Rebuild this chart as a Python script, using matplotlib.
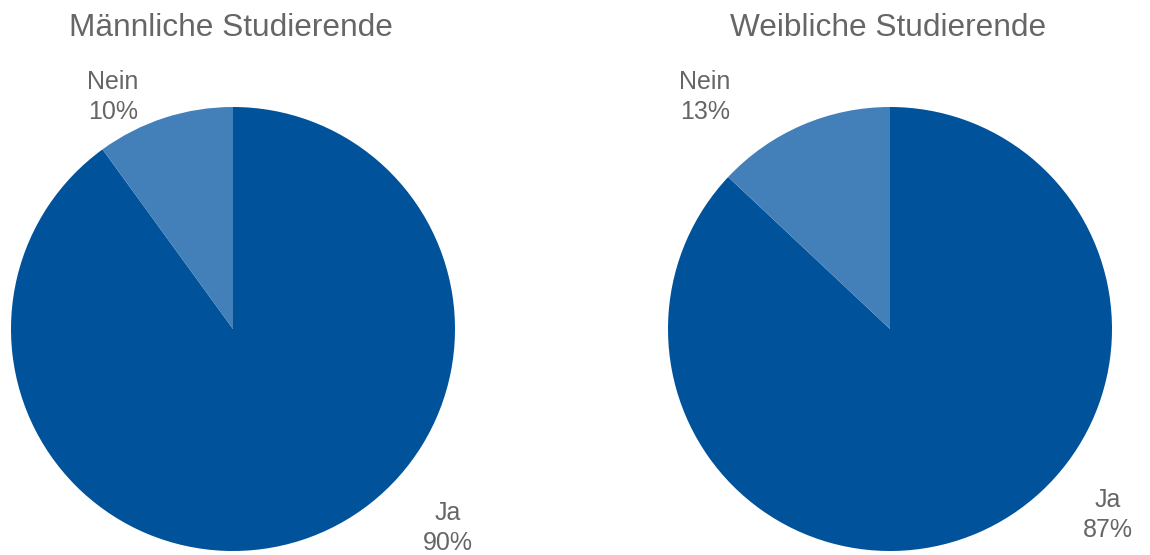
import matplotlib.pyplot as plt

plt.rcParams['font.family'] = ['Liberation Sans', 'DejaVu Sans']

categories = ["Ja", "Nein"]
titles = ["Männliche Studierende", "Weibliche Studierende"]
male = [90, 10]
female = [87, 13]

# label centres in pie units (radius 1)
label_pos = [
    {"Ja": (0.968, -0.896), "Nein": (-0.54, 1.045)},
    {"Ja": (0.98, -0.838), "Nein": (-0.833, 1.045)},
]

colors = ["#00529B", "#4380B9"]
text_color = "#666666"


def main():
    fig = plt.figure(figsize=(11.5, 5.55), dpi=100)
    axes = [
        fig.add_axes([11 / 1150, 4 / 555, 444 / 1150, 444 / 555]),
        fig.add_axes([668 / 1150, 4 / 555, 444 / 1150, 444 / 555]),
    ]

    for ax, values, title, pos in zip(axes, (male, female), titles, label_pos):
        ax.pie(values, colors=colors, startangle=90, counterclock=False,
               radius=1, wedgeprops=dict(linewidth=0))
        ax.set_xlim(-1, 1)
        ax.set_ylim(-1, 1)
        ax.set_aspect("equal")
        ax.axis("off")
        for cat, v in zip(categories, values):
            x, y = pos[cat]
            ax.text(x, y, "{}\n{}%".format(cat, v), ha="center", va="center",
                    fontsize=18, color=text_color, linespacing=1.35)
        ax.text(-0.01, 1.355, title, ha="center", va="center",
                fontsize=22.8, color=text_color)

    fig.savefig("out.png", dpi=100)


if __name__ == "__main__":
    main()
